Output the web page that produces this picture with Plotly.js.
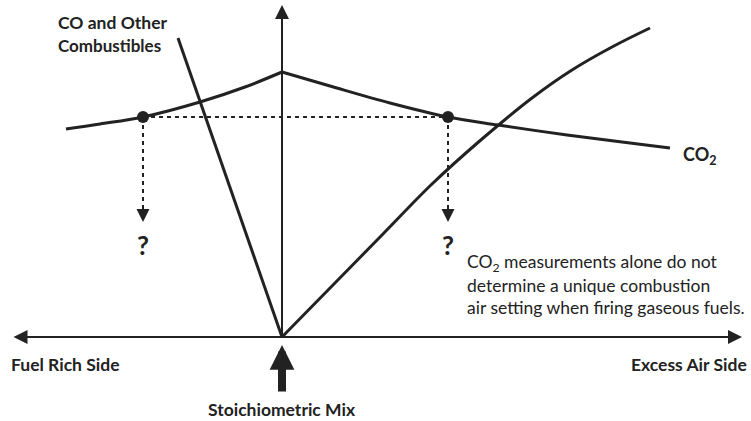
<!DOCTYPE html>
<html>
<head>
<meta charset="utf-8">
<script src="https://cdn.plot.ly/plotly-3.0.1.min.js"></script>
<style>html,body{margin:0;padding:0;background:#fff;}#chart{width:751px;height:421px;}</style>
</head>
<body>
<div id="chart"></div>
<script>
// Diagram units: x = position along air/fuel axis (0 = stoichiometric), y = height above axis
const co2LeftX  = [-216, -182, -139, -82, -37, 0];
const co2LeftY  = [208, 213, 220, 235, 250, 265];
const co2RightX = [0, 48, 108, 166, 216, 285, 340, 388];
const co2RightY = [265, 251, 234, 220, 212, 202, 195, 189];
const coX  = [-104, 0];
const coY  = [299, 0];
const airX = [0, 50, 100, 150, 200, 250, 290, 330, 368];
const airY = [0, 51, 102, 153, 198, 239, 267, 290, 309];
const dotX = [-139, 166];
const dotY = [220, 220];
const dropEndY = 128;
const arrowTipY = 115;
const questionY = 92;
const labels = {
  co: ["CO and Other", "Combustibles"],
  co2: "CO<sub>2</sub>",
  note: ["CO<sub>2</sub> measurements alone do not", "determine a unique combustion", "air setting when firing gaseous fuels."],
  left: "Fuel Rich Side",
  right: "Excess Air Side",
  stoich: "Stoichiometric Mix"
};

const ink = "#222222";
const F = "Lato, 'Open Sans', sans-serif";

const traces = [
  {x: co2LeftX, y: co2LeftY, mode: "lines", line: {color: ink, width: 3, shape: "spline"}},
  {x: co2RightX, y: co2RightY, mode: "lines", line: {color: ink, width: 3, shape: "spline"}},
  {x: coX, y: coY, mode: "lines", line: {color: ink, width: 3}},
  {x: airX, y: airY, mode: "lines", line: {color: ink, width: 3, shape: "spline", smoothing: 1}},
  {x: dotX, y: dotY, mode: "lines", line: {color: ink, width: 2, dash: "4px,4px"}},
  {x: [dotX[0], dotX[0]], y: [dotY[0], dropEndY], mode: "lines", line: {color: ink, width: 2, dash: "4px,4px"}},
  {x: [dotX[1], dotX[1]], y: [dotY[1], dropEndY], mode: "lines", line: {color: ink, width: 2, dash: "4px,4px"}},
  {x: dotX, y: dotY, mode: "markers", marker: {color: ink, size: 12}}
];

const ann = [];
// horizontal axis with arrowheads both ends
ann.push({x: 460, y: 0, ax: -270, ay: 0, xref: "x", yref: "y", axref: "x", ayref: "y",
  text: "", showarrow: true, arrowhead: 2, startarrowhead: 2, arrowside: "end+start",
  arrowsize: 1.4, startarrowsize: 1.4, arrowwidth: 2, arrowcolor: ink});
// vertical axis
ann.push({x: 0, y: 332, ax: 0, ay: 0, xref: "x", yref: "y", axref: "x", ayref: "y",
  text: "", showarrow: true, arrowhead: 2, arrowsize: 1.4, arrowwidth: 2, arrowcolor: ink});
// dashed drop arrowheads
dotX.forEach(function (xv) {
  ann.push({x: xv, y: arrowTipY, ax: xv, ay: dropEndY + 2, xref: "x", yref: "y", axref: "x", ayref: "y",
    text: "", showarrow: true, arrowhead: 2, arrowsize: 1.3, arrowwidth: 2, arrowcolor: ink});
  ann.push({x: xv, y: questionY, xref: "x", yref: "y", text: "<b>?</b>", showarrow: false,
    font: {family: F, size: 26, color: ink}});
});
// thick stoichiometric arrow
ann.push({x: 0, y: -8, ax: 0, ay: -56, xref: "x", yref: "y", axref: "x", ayref: "y",
  text: "", showarrow: true, arrowhead: 2, arrowsize: 0.62, arrowwidth: 8, arrowcolor: ink});
// text labels
ann.push({x: -226, y: 315, xref: "x", yref: "y", xanchor: "left", text: "<b>" + labels.co[0] + "</b>",
  showarrow: false, font: {family: F, size: 17.5, color: ink}});
ann.push({x: -226, y: 292, xref: "x", yref: "y", xanchor: "left", text: "<b>" + labels.co[1] + "</b>",
  showarrow: false, font: {family: F, size: 17, color: ink}});
ann.push({x: 399, y: 182, xref: "x", yref: "y", xanchor: "left", text: "<b>" + labels.co2 + "</b>",
  showarrow: false, font: {family: F, size: 18, color: ink}});
labels.note.forEach(function (t, i) {
  ann.push({x: 183, y: 74 - 22 * i, xref: "x", yref: "y", xanchor: "left", text: t,
    showarrow: false, font: {family: F, size: 17.5, color: ink}});
});
ann.push({x: -273, y: -27, xref: "x", yref: "y", xanchor: "left", text: "<b>" + labels.left + "</b>",
  showarrow: false, font: {family: F, size: 17.5, color: ink}});
ann.push({x: 467, y: -27, xref: "x", yref: "y", xanchor: "right", text: "<b>" + labels.right + "</b>",
  showarrow: false, font: {family: F, size: 17.5, color: ink}});
ann.push({x: 0, y: -72, xref: "x", yref: "y", xanchor: "center", text: "<b>" + labels.stoich + "</b>",
  showarrow: false, font: {family: F, size: 17.5, color: ink}});

const layout = {
  width: 751, height: 421,
  margin: {l: 0, r: 0, t: 0, b: 0},
  paper_bgcolor: "#ffffff", plot_bgcolor: "#ffffff",
  showlegend: false,
  xaxis: {range: [-282, 469], visible: false, fixedrange: true},
  yaxis: {range: [-84, 337], visible: false, fixedrange: true},
  annotations: ann
};

Plotly.newPlot("chart", traces, layout, {displayModeBar: false, staticPlot: true});
</script>
</body>
</html>
